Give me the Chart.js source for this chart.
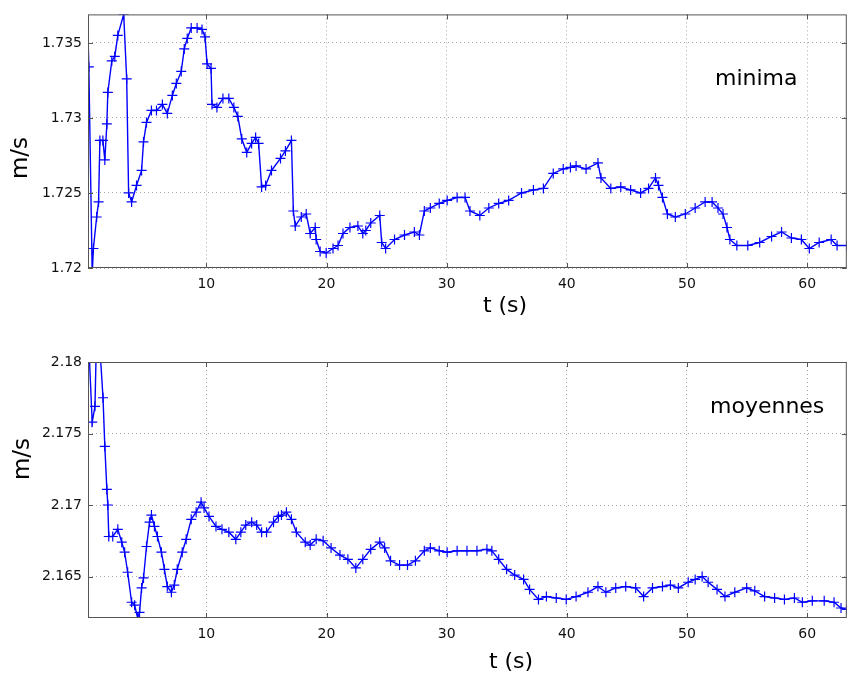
<!DOCTYPE html>
<html>
<head>
<meta charset="utf-8">
<script src="https://cdn.jsdelivr.net/npm/chart.js@4.4.1/dist/chart.umd.min.js"></script>
<style>
  html, body { margin: 0; padding: 0; background: #fff; }
  #wrap { position: relative; width: 853px; height: 677px; overflow: hidden; }
  canvas { position: absolute; left: 0; }
  #top { top: 0; }
  #bottom { top: 330px; }
</style>
</head>
<body>
<div id="wrap">
  <canvas id="top" width="853" height="330"></canvas>
  <canvas id="bottom" width="853" height="347"></canvas>
</div>
<script>
// minima (m/s) vs t (s)
const tMin = [0.1, 0.22, 0.5, 0.6, 0.87, 1.03, 1.14, 1.39, 1.55, 1.72, 1.8, 2.13, 2.38, 2.63, 3.12,
  3.37, 3.53, 3.78, 4.19, 4.61, 4.77, 5.02, 5.43, 5.85, 6.34, 6.75, 7.17, 7.5, 7.91, 8.16, 8.41,
  8.74, 9.23, 9.64, 9.89, 10.06, 10.39, 10.47, 10.88, 11.38, 11.87, 12.29, 12.62, 12.95, 13.36,
  13.77, 14.1, 14.35, 14.6, 14.93, 15.42, 16.17, 16.58, 17.08, 17.24, 17.4, 17.9, 18.31, 18.64,
  19.06, 19.14, 19.47, 19.97, 20.54, 20.96, 21.37, 21.95, 22.61, 23.02, 23.27, 23.68, 24.43,
  24.59, 24.92, 25.66, 26.49, 27.31, 27.73, 28.14, 28.64, 29.38, 30.04, 30.87, 31.53, 31.94,
  32.76, 33.51, 34.33, 35.16, 36.23, 37.22, 38.05, 38.87, 39.7, 40.3, 40.77, 41.6, 42.59, 42.84,
  43.66, 44.49, 45.31, 46.14, 46.8, 47.38, 47.63, 47.96, 48.37, 49.03, 49.86, 50.68, 51.51,
  52.09, 52.58, 53.0, 53.33, 53.57, 54.15, 55.06, 56.05, 57.04, 57.87, 58.69, 59.52, 60.18,
  61.0, 62.0, 62.49, 63.31];
const vMin = [1.7372, 1.7334, 1.7196, 1.7213, 1.7234, 1.7244, 1.7285, 1.7285, 1.7272, 1.7296,
  1.7317, 1.7338, 1.7341, 1.7355, 1.7369, 1.7326, 1.725, 1.7244, 1.7255, 1.7265, 1.7284, 1.7297,
  1.7305, 1.7305, 1.7309, 1.7303, 1.7315, 1.7323, 1.7331, 1.7346, 1.7353, 1.736, 1.736, 1.7359,
  1.7354, 1.7336, 1.7333, 1.7309, 1.7307, 1.7313, 1.7313, 1.7307, 1.7301, 1.7286, 1.7277,
  1.7283, 1.7287, 1.7283, 1.7254, 1.7255, 1.7265, 1.7273, 1.7278, 1.7285, 1.7238, 1.7228,
  1.7234, 1.7236, 1.7223, 1.7227, 1.7219, 1.7211, 1.721, 1.7213, 1.7215, 1.7223, 1.7227,
  1.7228, 1.7223, 1.7225, 1.723, 1.7235, 1.7217, 1.7213, 1.7219, 1.7222, 1.7224, 1.7222,
  1.7238, 1.724, 1.7243, 1.7245, 1.7247, 1.7247, 1.7238, 1.7235, 1.724, 1.7243, 1.7245, 1.725,
  1.7252, 1.7253, 1.7263, 1.7266, 1.7267, 1.7268, 1.7266, 1.727, 1.726, 1.7253, 1.7254, 1.7252,
  1.725, 1.7253, 1.726, 1.7255, 1.7247, 1.7236, 1.7234, 1.7236, 1.724, 1.7244, 1.7244, 1.724,
  1.7236, 1.7227, 1.7219, 1.7215, 1.7215, 1.7217, 1.7221, 1.7224, 1.722, 1.7219, 1.7213,
  1.7217, 1.7219, 1.7215, 1.7215];

// moyennes (m/s) vs t (s)
const tMoy = [0.2, 0.5, 0.73, 0.85, 1.1, 1.4, 1.55, 1.72, 1.8, 1.88, 2.21, 2.63, 2.96, 3.2, 3.45,
  3.78, 4.03, 4.28, 4.44, 4.61, 4.77, 5.02, 5.27, 5.43, 5.68, 5.93, 6.26, 6.51, 6.75, 7.09, 7.33,
  7.58, 7.99, 8.32, 8.74, 9.15, 9.56, 9.81, 10.22, 10.8, 11.3, 11.87, 12.45, 12.87, 13.28, 13.77,
  14.19, 14.6, 15.01, 15.59, 16.0, 16.25, 16.66, 17.08, 17.49, 18.23, 18.64, 19.14, 19.72, 20.38,
  21.12, 21.78, 22.44, 23.02, 23.68, 24.43, 24.84, 25.33, 26.08, 26.74, 27.4, 28.14, 28.64,
  29.38, 30.04, 30.87, 31.69, 32.52, 33.35, 33.76, 34.33, 34.99, 35.66, 36.4, 36.9, 37.64, 38.3,
  39.12, 39.95, 40.77, 41.76, 42.59, 43.25, 44.07, 44.9, 45.73, 46.39, 47.13, 47.96, 48.62,
  49.28, 50.1, 50.68, 51.26, 51.76, 52.5, 53.16, 53.98, 54.97, 55.64, 56.46, 57.29, 58.11,
  58.94, 59.6, 60.43, 61.42, 62.24, 62.82, 63.31];
const vMoy = [2.1815, 2.1758, 2.1769, 2.1815, 2.1815, 2.1775, 2.1741, 2.1711, 2.17, 2.1678,
  2.1678, 2.1683, 2.1674, 2.1667, 2.1653, 2.1632, 2.163, 2.1621, 2.1625, 2.1642, 2.1649, 2.1671,
  2.1688, 2.1693, 2.1685, 2.1678, 2.1667, 2.1655, 2.1643, 2.1639, 2.1644, 2.1655, 2.1667,
  2.1676, 2.169, 2.1695, 2.1702, 2.1698, 2.1692, 2.1685, 2.1683, 2.1681, 2.1676, 2.1681, 2.1686,
  2.1688, 2.1686, 2.1681, 2.1681, 2.1688, 2.1692, 2.1693, 2.1695, 2.169, 2.1681, 2.1674,
  2.1672, 2.1676, 2.1675, 2.167, 2.1665, 2.1662, 2.1656, 2.1662, 2.1669, 2.1674, 2.167, 2.1661,
  2.1658, 2.1658, 2.1661, 2.1668, 2.167, 2.1668, 2.1667, 2.1668, 2.1668, 2.1668, 2.1669,
  2.1668, 2.1662, 2.1655, 2.1651, 2.1648, 2.1641, 2.1634, 2.1636, 2.1635, 2.1634, 2.1636,
  2.1639, 2.1643, 2.1639, 2.1642, 2.1643, 2.1642, 2.1636, 2.1642, 2.1643, 2.1644, 2.1642,
  2.1646, 2.1648, 2.165, 2.1646, 2.1641, 2.1636, 2.1639, 2.1642, 2.164, 2.1636, 2.1635, 2.1634,
  2.1635, 2.1632, 2.1633, 2.1633, 2.1632, 2.1628, 2.1627];

const xTicks = [10, 20, 30, 40, 50, 60];
const yTicksMin = [1.72, 1.725, 1.73, 1.735];
const yLabelsMin = ['1.72', '1.725', '1.73', '1.735'];
const yTicksMoy = [2.165, 2.17, 2.175, 2.18];
const yLabelsMoy = ['2.165', '2.17', '2.175', '2.18'];

const BLUE = '#0000ff';
const FRAME = '#555555';

// MATLAB-like box with inward ticks, plus the free texts
const framePlugin = {
  id: 'frame',
  afterDraw(chart, args, opts) {
    const { ctx, chartArea: a, scales } = chart;
    ctx.save();
    ctx.strokeStyle = FRAME;
    ctx.lineWidth = 1;
    ctx.strokeRect(a.left + 0.5, a.top + 0.5, a.right - a.left - 1, a.bottom - a.top - 1);
    ctx.beginPath();
    scales.x.ticks.forEach(t => {
      const px = Math.round(scales.x.getPixelForValue(t.value)) + 0.5;
      ctx.moveTo(px, a.bottom); ctx.lineTo(px, a.bottom - 5);
      ctx.moveTo(px, a.top); ctx.lineTo(px, a.top + 5);
    });
    scales.y.ticks.forEach(t => {
      const py = Math.round(scales.y.getPixelForValue(t.value)) + 0.5;
      ctx.moveTo(a.left, py); ctx.lineTo(a.left + 5, py);
      ctx.moveTo(a.right, py); ctx.lineTo(a.right - 5, py);
    });
    ctx.stroke();

    ctx.fillStyle = '#000';
    ctx.font = '22px "DejaVu Sans"';
    ctx.textAlign = 'center';
    ctx.textBaseline = 'middle';
    ctx.fillText('t (s)', opts.xTitle[0], opts.xTitle[1]);
    ctx.textAlign = 'left';
    ctx.textBaseline = 'alphabetic';
    ctx.fillText(opts.label, opts.labelPos[0], opts.labelPos[1]);
    ctx.save();
    ctx.translate(opts.yTitle[0], opts.yTitle[1]);
    ctx.rotate(-Math.PI / 2);
    ctx.font = '23px "DejaVu Sans"';
    ctx.textAlign = 'center';
    ctx.textBaseline = 'middle';
    ctx.fillText('m/s', 0, 0);
    ctx.restore();
    ctx.restore();
  }
};

function makeChart(id, t, v, yMin, yMax, yTicks, yLabels, padTop, xAxisH, frameOpts) {
  const points = t.map((x, i) => ({ x, y: v[i] }));
  return new Chart(document.getElementById(id), {
    type: 'scatter',
    data: {
      datasets: [{
        data: points,
        showLine: true,
        borderColor: BLUE,
        borderWidth: 1.4,
        pointStyle: 'cross',
        pointRadius: 5,
        pointBorderColor: BLUE,
        pointBorderWidth: 1.2,
        clip: 0
      }]
    },
    options: {
      responsive: false,
      animation: false,
      events: [],
      layout: { padding: { top: padTop, left: 0, right: 0, bottom: 0 } },
      plugins: { legend: { display: false }, tooltip: { enabled: false }, frame: frameOpts },
      scales: {
        x: {
          type: 'linear', min: 0.15, max: 63.3,
          afterBuildTicks: s => { s.ticks = xTicks.map(value => ({ value })); },
          afterFit: s => { s.height = xAxisH; },
          grid: { color: '#a8a8a8', drawTicks: false },
          border: { display: false, dash: [1, 3] },
          ticks: { padding: 8, color: '#111', font: { family: 'DejaVu Sans', size: 14 }, maxRotation: 0 }
        },
        y: {
          type: 'linear', min: yMin, max: yMax,
          afterBuildTicks: s => { s.ticks = yTicks.map(value => ({ value })); },
          afterFit: s => { s.width = 88; },
          grid: { color: '#a8a8a8', drawTicks: false },
          border: { display: false, dash: [1, 3] },
          ticks: {
            padding: 6, color: '#111', font: { family: 'DejaVu Sans', size: 14 },
            callback: (val, i) => yLabels[i]
          }
        }
      }
    },
    plugins: [framePlugin]
  });
}

makeChart('top', tMin, vMin, 1.72, 1.7369, yTicksMin, yLabelsMin, 11, 62,
  { xTitle: [505, 306], yTitle: [21, 158], label: 'minima', labelPos: [715, 85] });
makeChart('bottom', tMoy, vMoy, 2.1621, 2.18, yTicksMoy, yLabelsMoy, 32, 59,
  { xTitle: [511, 332], yTitle: [23, 129], label: 'moyennes', labelPos: [710, 83] });
</script>
</body>
</html>
